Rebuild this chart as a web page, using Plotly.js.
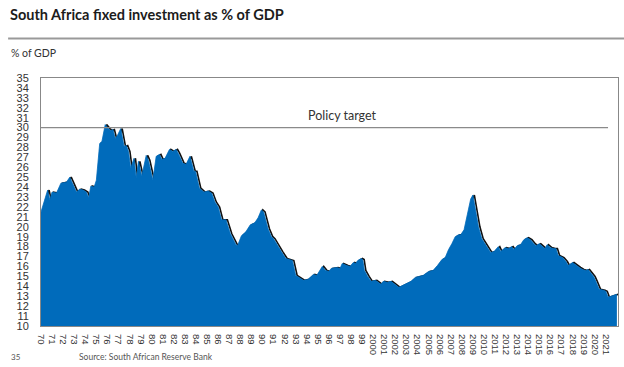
<!DOCTYPE html>
<html><head><meta charset="utf-8">
<script src="https://cdn.plot.ly/plotly-3.0.1.min.js"></script>
<style>html,body{margin:0;padding:0;background:#fff}#chart{width:624px;height:367px}</style>
</head><body><div id="chart"></div>
<script>
// Data (decimal year, % of GDP)
const years = [1970.0,1970.6,1970.8,1971.0,1971.4,1971.8,1972.3,1972.6,1972.8,1973.2,1973.5,1973.8,1974.1,1974.3,1974.5,1974.8,1975.0,1975.3,1975.5,1975.8,1976.1,1976.3,1976.5,1976.7,1976.9,1977.2,1977.5,1977.7,1977.9,1978.1,1978.4,1978.6,1978.8,1979.1,1979.5,1979.7,1980.1,1980.4,1980.7,1980.9,1981.2,1981.6,1981.9,1982.2,1982.4,1982.8,1983.1,1983.45,1983.8,1983.95,1984.3,1984.7,1985.1,1985.4,1985.7,1986.0,1986.3,1986.7,1987.1,1987.6,1987.75,1988.1,1988.5,1988.9,1989.3,1989.6,1989.9,1990.1,1990.5,1990.8,1991.0,1991.3,1991.7,1992.1,1992.5,1992.7,1993.0,1993.3,1993.7,1994.1,1994.6,1994.9,1995.4,1995.7,1996.0,1996.2,1996.7,1997.0,1997.2,1997.6,1997.9,1998.2,1998.4,1998.6,1998.9,1999.05,1999.2,1999.5,1999.8,2000.2,2000.5,2000.7,2000.9,2001.3,2001.6,2001.9,2002.3,2002.5,2002.9,2003.4,2003.8,2004.2,2004.5,2005.0,2005.4,2005.8,2006.2,2006.5,2006.8,2007.1,2007.4,2007.7,2007.9,2008.2,2008.5,2008.8,2009.0,2009.2,2009.5,2009.8,2010.1,2010.6,2010.9,2011.3,2011.5,2011.9,2012.2,2012.5,2012.7,2013.0,2013.3,2013.6,2013.9,2014.2,2014.5,2014.7,2015.0,2015.3,2015.5,2015.7,2016.0,2016.3,2016.5,2016.7,2017.1,2017.4,2017.6,2018.0,2018.3,2018.6,2018.9,2019.2,2019.4,2019.6,2019.9,2020.1,2020.4,2020.8,2021.0,2021.2,2021.5,2021.8,2022.0];
const investment = [21.5,23.7,22.7,23.5,23.4,24.4,24.5,25.0,24.5,23.5,23.8,23.7,23.5,22.9,24.1,24.0,24.7,28.4,28.6,30.3,29.9,29.7,29.8,28.9,29.2,29.9,28.1,28.2,27.6,25.9,26.9,24.9,26.6,25.1,27.2,26.7,24.7,27.1,27.3,26.8,26.9,27.8,27.6,27.8,27.4,26.4,26.3,27.1,25.6,25.6,23.9,23.5,23.6,23.4,22.5,22.0,20.7,20.7,19.3,18.2,18.1,19.1,19.5,20.2,20.4,20.9,21.7,21.5,19.8,19.0,18.8,18.3,17.5,16.8,16.7,16.6,15.1,14.9,14.6,14.7,15.2,15.1,16.0,15.6,15.5,15.8,15.9,15.8,16.3,16.1,16.0,16.4,16.3,16.6,16.8,16.7,15.6,15.0,14.5,14.6,14.4,14.2,14.5,14.4,14.5,14.2,13.9,14.0,14.2,14.5,14.9,15.0,15.1,15.5,15.6,16.1,16.7,16.9,17.7,18.3,19.0,19.2,19.2,19.7,21.4,22.8,23.2,21.8,20.0,18.8,18.3,17.4,17.5,18.0,17.5,17.9,17.8,18.0,17.7,18.1,18.2,18.7,18.9,18.7,18.3,18.1,18.3,18.0,17.8,18.2,17.9,17.8,17.8,17.1,16.9,16.5,16.1,16.4,16.1,15.9,15.7,15.6,15.7,15.4,15.0,14.5,13.7,13.6,13.5,12.9,13.0,13.1,13.2];
const policyYears = [1970, 2021.2];
const policyTarget = [30, 30];
const tickYears = [];
const tickLabels = [];
for (let y = 1970; y <= 2021; y++) { tickYears.push(y); tickLabels.push(y < 2000 ? String(y).slice(2) : String(y)); }
const yTicks = [];
for (let v = 10; v <= 35; v++) yTicks.push(v);

const shadowShift = 0.13;
const traces = [
  {x: years.map(v => v + shadowShift), y: investment, type: 'scatter', mode: 'lines',
   line: {color: '#111', width: 1.6}, hoverinfo: 'skip', showlegend: false},
  {x: years, y: investment, type: 'scatter', mode: 'lines', fill: 'tozeroy',
   fillcolor: '#006bbb', line: {color: '#006bbb', width: 0.8}, showlegend: false},
  {x: policyYears, y: policyTarget, type: 'scatter', mode: 'lines',
   line: {color: '#8a8a8a', width: 1.3}, showlegend: false}
];

const layout = {
  width: 624, height: 367,
  margin: {l: 41, r: 6, t: 78, b: 41},
  paper_bgcolor: '#fff', plot_bgcolor: '#fff',
  showlegend: false,
  xaxis: {range: [1970, 2022.1], tickmode: 'array', tickvals: tickYears, ticktext: tickLabels,
    tickangle: 90, tickfont: {family: 'Liberation Sans, Arial', size: 9.5, color: '#333'},
    showgrid: false, zeroline: false, showline: true, linecolor: '#888', linewidth: 1, mirror: true,
    ticks: 'outside', ticklen: 5, tickcolor: 'rgba(0,0,0,0)', fixedrange: true},
  yaxis: {range: [10, 35], tickmode: 'array', tickvals: yTicks,
    tickfont: {family: 'Liberation Sans, Arial', size: 11, color: '#333'},
    showgrid: false, zeroline: false, showline: true, linecolor: '#888', linewidth: 1, mirror: true,
    ticks: 'outside', ticklen: 9, tickcolor: 'rgba(0,0,0,0)', fixedrange: true},
  shapes: [
    {type: 'line', xref: 'paper', yref: 'paper', x0: -0.057, x1: 1.02, y0: 1.159, y1: 1.159,
     line: {color: '#999', width: 2}}
  ],
  annotations: [
    {text: '<b>South Africa fixed investment as % of GDP</b>', xref: 'paper', yref: 'paper',
     x: -0.057, y: 1.258, xanchor: 'left', yanchor: 'middle', showarrow: false,
     font: {family: 'Lato, Roboto, sans-serif', size: 14.5, color: '#1c1c1c'}},
    {text: '% of GDP', xref: 'paper', yref: 'paper', x: -0.055, y: 1.101, xanchor: 'left', yanchor: 'middle',
     showarrow: false, font: {family: 'Lato, sans-serif', size: 10.5, color: '#333'}},
    {text: 'Policy target', xref: 'paper', yref: 'y', x: 0.523, y: 30, yshift: 12, xanchor: 'center', yanchor: 'middle',
     showarrow: false, font: {family: 'Lato, sans-serif', size: 12.5, color: '#333'}},
    {text: '35', xref: 'paper', yref: 'paper', x: -0.055, y: -0.125, xanchor: 'left', yanchor: 'middle',
     showarrow: false, font: {family: 'Lato, sans-serif', size: 8, color: '#555'}},
    {text: 'Source: South African Reserve Bank', xref: 'paper', yref: 'paper', x: 0.062, y: -0.125, xanchor: 'left', yanchor: 'middle',
     showarrow: false, font: {family: 'Lato, sans-serif', size: 8.5, color: '#555'}}
  ]
};
Plotly.newPlot('chart', traces, layout, {staticPlot: true, displayModeBar: false});
</script></body></html>
